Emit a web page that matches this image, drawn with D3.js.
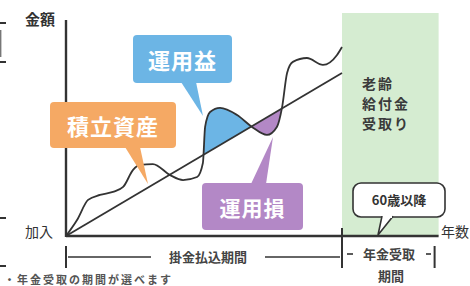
<!DOCTYPE html>
<html>
<head>
<meta charset="utf-8">
<script src="https://cdn.jsdelivr.net/npm/d3@7"></script>
<style>
  html, body { margin: 0; padding: 0; background: #fff; }
  svg { display: block; }
</style>
</head>
<body>
<div id="chart"></div>
<script>
var width = 470, height = 286;

// 積立資産 (運用あり) の推移: 年数 0-100, 金額 0-100
var curveYears  = [0, 4, 8, 12.3, 17, 20.7, 24.3, 26.8, 31.5, 37.7, 42.4, 47.5, 49.6, 50.4, 52.2, 55.8, 62, 67.4, 72.8, 76.4, 78.3, 80.1, 82.2, 87.3, 93.1, 98.2, 100];
var curveValues = [0, 7.4, 16.7, 19, 20.4, 22.7, 30.6, 32.9, 33.3, 28.2, 25.9, 27.3, 33.8, 50.5, 57.4, 59.3, 56, 50.5, 46.8, 50.5, 59.7, 75.5, 80.6, 82.4, 79.2, 83.8, 87.5];
// 元本 (直線)
var lineYears  = [0, 100];
var lineValues = [0, 75.5];
// 期間
var payEnd = 100, receiveEnd = 135;

var ink = "#333";
var font = "'Noto Sans CJK JP', 'Noto Sans', sans-serif";

var svg = d3.select("#chart").append("svg")
    .attr("width", width)
    .attr("height", height)
    .style("font-family", font);

var x = d3.scaleLinear().domain([0, 100]).range([66, 342]);
var y = d3.scaleLinear().domain([0, 100]).range([236, 20]);

// 年金受取期間の背景
svg.append("rect")
    .attr("x", x(payEnd))
    .attr("y", 13)
    .attr("width", x(receiveEnd) - x(payEnd))
    .attr("height", y(0) - 13)
    .style("fill", "#d5ecd1");

var curvePts = curveYears.map(function(d, i) { return [d, curveValues[i]]; });
var linePts = lineYears.map(function(d, i) { return [d, lineValues[i]]; });

var curveGen = d3.line()
    .x(function(d) { return x(d[0]); })
    .y(function(d) { return y(d[1]); })
    .curve(d3.curveMonotoneX);

var lineGen = d3.line()
    .x(function(d) { return x(d[0]); })
    .y(function(d) { return y(d[1]); });

var fills = svg.append("g");

var curvePath = svg.append("path")
    .datum(curvePts)
    .attr("d", curveGen)
    .style("fill", "none")
    .style("stroke", ink)
    .style("stroke-width", 1.8);

svg.append("path")
    .datum(linePts)
    .attr("d", lineGen)
    .style("fill", "none")
    .style("stroke", ink)
    .style("stroke-width", 1.8);

// sample the curve, find where it crosses the straight line
var slope = lineValues[1] / lineYears[1];
function lineYpx(px) { return y(slope * x.invert(px)); }

var node = curvePath.node(), total = node.getTotalLength();
var samples = [];
for (var l = 0; l <= total; l += 0.5) {
  var p = node.getPointAtLength(l);
  samples.push([p.x, p.y]);
}
var crossings = [];
for (var i = 1; i < samples.length; i++) {
  var d0 = samples[i-1][1] - lineYpx(samples[i-1][0]);
  var d1 = samples[i][1] - lineYpx(samples[i][0]);
  if (d0 * d1 <= 0 && d0 !== d1 && samples[i][0] > x(45) && samples[i][0] < x(85)) crossings.push(i);
}

var polyLine = d3.line();
function lens(a, b, color) {
  var pts = samples.slice(a, b + 1);
  fills.append("path")
      .attr("d", polyLine(pts) + "Z")
      .style("fill", color);
}
if (crossings.length >= 3) {
  lens(crossings[0], crossings[1], "#6cb5e5");
  lens(crossings[1], crossings[2], "#b388c6");
}

// axes
svg.append("line")
    .attr("x1", x(0)).attr("x2", x(0))
    .attr("y1", y(100)).attr("y2", y(0) + 1)
    .style("stroke", ink).style("stroke-width", 2.4);
svg.append("line")
    .attr("x1", x(0)).attr("x2", x(receiveEnd))
    .attr("y1", y(0)).attr("y2", y(0))
    .style("stroke", ink).style("stroke-width", 2.4);

svg.append("text").attr("x", 25).attr("y", 25).text("金額")
    .style("font-size", "15px").style("font-weight", 700).style("fill", ink);
svg.append("text").attr("x", 25).attr("y", 237).text("加入")
    .style("font-size", "14px").style("fill", ink);
svg.append("text").attr("x", 441).attr("y", 237).text("年数")
    .style("font-size", "14px").style("fill", ink);

// 期間の目盛り
function vline(px, y1, y2) {
  svg.append("line").attr("x1", px).attr("x2", px).attr("y1", y1).attr("y2", y2)
      .style("stroke", ink).style("stroke-width", 2);
}
function hline(x1, x2, py, w) {
  svg.append("line").attr("x1", x1).attr("x2", x2).attr("y1", py).attr("y2", py)
      .style("stroke", ink).style("stroke-width", w || 1.6);
}
vline(x(0), 246, 268);
vline(x(payEnd), 228, 268);
vline(x(receiveEnd) - 4, 246, 268);
hline(x(0) + 2, 151, 257);
hline(265, x(payEnd) - 2, 257);
svg.append("text").attr("x", 208).attr("y", 262).attr("text-anchor", "middle")
    .text("掛金払込期間").style("font-size", "13px").style("font-weight", 700).style("fill", "#444");
hline(347, 353, 254);
hline(426, 431, 254);
svg.append("text").attr("x", 389).attr("y", 259).attr("text-anchor", "middle")
    .text("年金受取").style("font-size", "13px").style("font-weight", 700).style("fill", "#444");
svg.append("text").attr("x", 391).attr("y", 281).attr("text-anchor", "middle")
    .text("期間").style("font-size", "13px").style("font-weight", 700).style("fill", "#444");

// 老齢給付金受取り
["老齢", "給付金", "受取り"].forEach(function(t, i) {
  svg.append("text").attr("x", 362).attr("y", 89 + i * 20).text(t)
      .style("font-size", "14px").style("font-weight", 700)
      .style("letter-spacing", "2px").style("fill", "#3a3a3a");
});

// label boxes with pointers
function callout(bx, by, bw, bh, pointer, color, label, size) {
  var g = svg.append("g");
  g.append("path").attr("d", d3.line()(pointer) + "Z").style("fill", color);
  g.append("rect").attr("x", bx).attr("y", by).attr("width", bw).attr("height", bh)
      .attr("rx", 4).style("fill", color);
  g.append("text").attr("x", bx + bw / 2).attr("y", by + bh / 2)
      .attr("text-anchor", "middle").attr("dominant-baseline", "central")
      .text(label).style("font-size", size + "px").style("font-weight", 700)
      .style("letter-spacing", "1px").style("fill", "#fff");
}
callout(133, 35, 99, 48, [[181, 82], [196, 82], [203, 116]], "#6cb5e5", "運用益", 22);
callout(50, 102, 126, 46, [[125, 147], [140, 147], [148, 184]], "#f5a964", "積立資産", 22);
callout(202, 183, 101, 47, [[251, 184], [266, 184], [273, 137]], "#b388c6", "運用損", 21);

// 60歳以降
var c = svg.append("g");
c.append("rect").attr("x", 353).attr("y", 183).attr("width", 92).attr("height", 34)
    .attr("rx", 8).style("fill", "#fff").style("stroke", ink).style("stroke-width", 1.6);
c.append("path").attr("d", "M382,216.2 L378,235 L393,216.2")
    .style("fill", "#fff").style("stroke", ink).style("stroke-width", 1.6);
c.append("line").attr("x1", 383).attr("x2", 392).attr("y1", 217).attr("y2", 217)
    .style("stroke", "#fff").style("stroke-width", 2);
c.append("text").attr("x", 399).attr("y", 205).attr("text-anchor", "middle")
    .text("60歳以降").style("font-size", "13px").style("font-weight", 700).style("fill", ink);

// cropped edge marks
[23, 62, 218, 266].forEach(function(py) { hline(0, 6, py, 2); });
svg.append("line").attr("x1", 0.7).attr("x2", 0.7).attr("y1", 30).attr("y2", 57)
    .style("stroke", "#777").style("stroke-width", 1.4);
svg.append("text").attr("x", 4).attr("y", 284).text("・年金受取の期間が選べます")
    .style("font-size", "11px").style("font-weight", 700).style("letter-spacing", "2px").style("fill", "#555");
</script>
</body>
</html>
